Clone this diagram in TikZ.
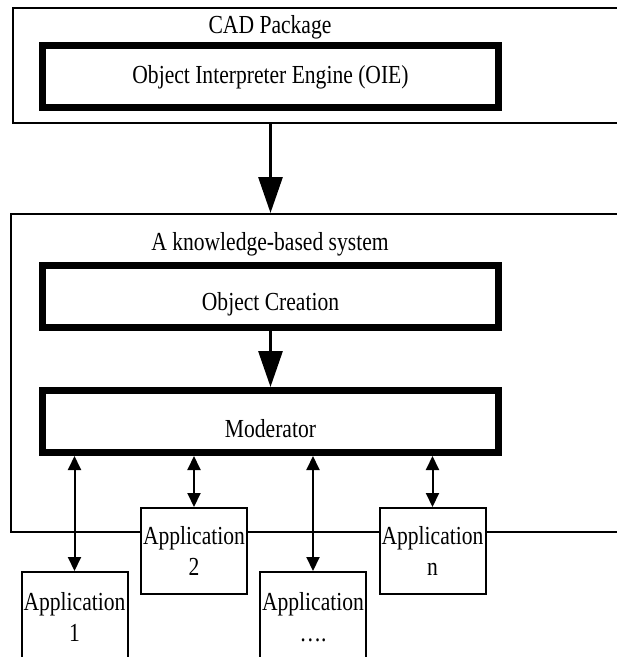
\documentclass[tikz,border=0pt]{standalone}
\usepackage{fontspec}
\setmainfont[FakeStretch=0.83]{Liberation Serif}
\usetikzlibrary{arrows.meta}

\begin{document}
\begin{tikzpicture}[x=1pt,y=-1pt,
    font=\fontsize{26}{31}\selectfont,
    container/.style={draw, line width=2pt, rectangle, anchor=north west, inner sep=0pt},
    engine/.style={draw, line width=7pt, rectangle, minimum width=456pt, minimum height=62pt, inner sep=0pt, text depth=6pt},
    appbox/.style={draw, fill=white, line width=2pt, rectangle, minimum width=106pt, minimum height=86pt, inner sep=0pt, align=center, anchor=north},
    flow/.style={-{Triangle[length=36pt,width=24pt]}, line width=3pt},
    link/.style={{Triangle[length=14pt,width=13pt]}-{Triangle[length=14pt,width=13pt]}, line width=2pt}]
    % The page is cut at the right and at the bottom:
    \path[use as bounding box, clip] (0,0) rectangle (617,657);

    % Outer boxes:
    \node[container, minimum width=640pt, minimum height=115pt] (cad) at (12,7) {};
    \node[container, minimum width=640pt, minimum height=318pt] (kbs) at (10,213) {};
    \node[anchor=base] (cadlbl) at (270,33) {CAD Package};
    \node[anchor=base] (kbslbl) at (270,250) {A knowledge-based system};

    % Thick inner boxes:
    \node[engine, text height=19pt] (oie) at (270.5,76.5) {Object Interpreter Engine (OIE)};
    \node[engine, text height=34pt] (ocr) at (270.5,296) {Object Creation};
    \node[engine, text height=38pt] (mod) at (270.5,421.5) {Moderator};

    % Applications, drawn over the bottom line of the system box:
    \node[appbox, minimum height=90pt] (app1) at (74.5,571) {Application\\1};
    \node[appbox] (app2) at (194,507) {Application\\2};
    \node[appbox, minimum height=90pt] (app3) at (313,571) {Application\\….};
    \node[appbox] (appn) at (432.5,507) {Application\\n};

    % Connectors:
    \draw[flow] (oie.south |- cad.south) -- (oie.south |- kbs.north);
    \draw[flow] (ocr.south) -- (mod.north);
    \foreach \a in {app1,app2,app3,appn}{%
        \draw[link] (\a.north |- mod.south) -- (\a.north);}
\end{tikzpicture}
\end{document}
